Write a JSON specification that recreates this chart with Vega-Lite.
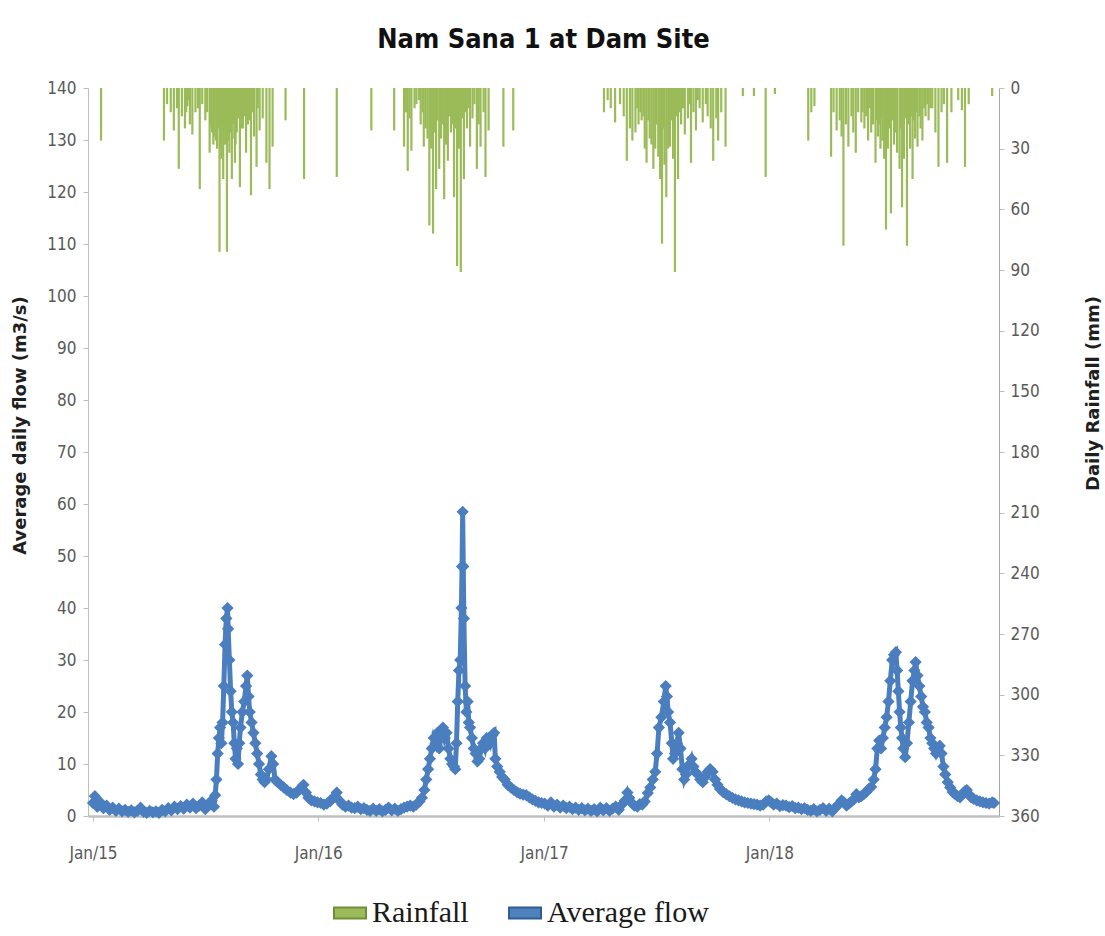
{
 "$schema": "https://vega.github.io/schema/vega-lite/v6.json",
 "width": 911,
 "height": 728,
 "autosize": {"type": "none"},
 "padding": {"left": 88, "top": 88, "right": 106, "bottom": 120},
 "background": "white",
 "title": {"text": "Nam Sana 1 at Dam Site", "font": "'Liberation Sans Narrow', 'DejaVu Sans Condensed', sans-serif", "fontSize": 27, "fontWeight": "bold", "color": "#111111", "anchor": "middle", "baseline": "alphabetic", "offset": 4},
 "config": {"view": {"stroke": null}, "axis": {"grid": false}},
 "datasets": {
  "flow": [
   {"d":"2015-01-01","q":2.5},{"d":"2015-01-04","q":3.8},{"d":"2015-01-08","q":1.8},{"d":"2015-01-13","q":2.6},{"d":"2015-01-18","q":1.5},{"d":"2015-01-23","q":2.0},{"d":"2015-01-28","q":1.2},{"d":"2015-02-02","q":1.6},{"d":"2015-02-07","q":1.0},{"d":"2015-02-12","q":1.4},{"d":"2015-02-17","q":0.9},{"d":"2015-02-22","q":1.2},{"d":"2015-02-27","q":0.8},{"d":"2015-03-04","q":1.1},{"d":"2015-03-09","q":0.7},{"d":"2015-03-14","q":1.0},{"d":"2015-03-19","q":1.6},{"d":"2015-03-24","q":0.8},{"d":"2015-03-29","q":0.6},{"d":"2015-04-03","q":1.0},{"d":"2015-04-08","q":0.7},{"d":"2015-04-13","q":0.9},{"d":"2015-04-18","q":0.6},{"d":"2015-04-23","q":1.2},{"d":"2015-04-28","q":0.9},{"d":"2015-05-03","q":1.5},{"d":"2015-05-08","q":1.1},{"d":"2015-05-13","q":1.8},{"d":"2015-05-18","q":1.3},{"d":"2015-05-23","q":1.9},{"d":"2015-05-28","q":1.4},{"d":"2015-06-02","q":2.2},{"d":"2015-06-07","q":1.6},{"d":"2015-06-12","q":2.4},{"d":"2015-06-17","q":1.5},{"d":"2015-06-22","q":2.0},{"d":"2015-06-27","q":2.6},{"d":"2015-07-02","q":1.3},{"d":"2015-07-07","q":2.1},{"d":"2015-07-12","q":3.0},{"d":"2015-07-16","q":1.8},{"d":"2015-07-18","q":4},{"d":"2015-07-20","q":7},{"d":"2015-07-22","q":12},{"d":"2015-07-24","q":15},{"d":"2015-07-26","q":17},{"d":"2015-07-28","q":14},{"d":"2015-07-30","q":18},{"d":"2015-08-01","q":25},{"d":"2015-08-03","q":33},{"d":"2015-08-05","q":38},{"d":"2015-08-07","q":40},{"d":"2015-08-08","q":36},{"d":"2015-08-10","q":30},{"d":"2015-08-12","q":24},{"d":"2015-08-14","q":20},{"d":"2015-08-16","q":18},{"d":"2015-08-18","q":14},{"d":"2015-08-20","q":11},{"d":"2015-08-22","q":13},{"d":"2015-08-24","q":10},{"d":"2015-08-26","q":14},{"d":"2015-08-28","q":17},{"d":"2015-08-31","q":20},{"d":"2015-09-03","q":22},{"d":"2015-09-06","q":25},{"d":"2015-09-08","q":27},{"d":"2015-09-10","q":23},{"d":"2015-09-12","q":20},{"d":"2015-09-15","q":18},{"d":"2015-09-18","q":16},{"d":"2015-09-21","q":14},{"d":"2015-09-24","q":12},{"d":"2015-09-27","q":10},{"d":"2015-09-30","q":8},{"d":"2015-10-03","q":7},{"d":"2015-10-06","q":6.5},{"d":"2015-10-09","q":7},{"d":"2015-10-13","q":9},{"d":"2015-10-17","q":11.5},{"d":"2015-10-20","q":10},{"d":"2015-10-23","q":7},{"d":"2015-10-27","q":6.5},{"d":"2015-11-01","q":6},{"d":"2015-11-06","q":5.5},{"d":"2015-11-11","q":5},{"d":"2015-11-17","q":4.5},{"d":"2015-11-22","q":4.2},{"d":"2015-11-27","q":4.5},{"d":"2015-12-02","q":5.2},{"d":"2015-12-08","q":6},{"d":"2015-12-12","q":4.5},{"d":"2015-12-16","q":3.5},{"d":"2015-12-21","q":3.0},{"d":"2015-12-26","q":2.8},{"d":"2015-12-31","q":2.6},
   {"d":"2016-01-05","q":2.5},{"d":"2016-01-10","q":2.2},{"d":"2016-01-15","q":2.4},{"d":"2016-01-20","q":2.8},{"d":"2016-01-25","q":3.5},{"d":"2016-01-31","q":4.5},{"d":"2016-02-04","q":3.0},{"d":"2016-02-09","q":2.2},{"d":"2016-02-14","q":1.8},{"d":"2016-02-19","q":2.0},{"d":"2016-02-24","q":1.6},{"d":"2016-02-29","q":1.5},{"d":"2016-03-05","q":1.8},{"d":"2016-03-10","q":1.3},{"d":"2016-03-15","q":1.5},{"d":"2016-03-20","q":1.2},{"d":"2016-03-25","q":1.0},{"d":"2016-03-30","q":1.4},{"d":"2016-04-04","q":1.0},{"d":"2016-04-09","q":1.3},{"d":"2016-04-14","q":0.9},{"d":"2016-04-19","q":1.2},{"d":"2016-04-24","q":1.6},{"d":"2016-04-29","q":1.1},{"d":"2016-05-04","q":1.4},{"d":"2016-05-09","q":1.0},{"d":"2016-05-14","q":1.3},{"d":"2016-05-19","q":1.6},{"d":"2016-05-24","q":1.8},{"d":"2016-05-29","q":2.0},{"d":"2016-06-03","q":1.8},{"d":"2016-06-08","q":2.2},{"d":"2016-06-13","q":2.8},{"d":"2016-06-17","q":3.5},{"d":"2016-06-21","q":5},{"d":"2016-06-24","q":7},{"d":"2016-06-27","q":9},{"d":"2016-06-30","q":11},{"d":"2016-07-03","q":13},{"d":"2016-07-06","q":15},{"d":"2016-07-09","q":14},{"d":"2016-07-12","q":16},{"d":"2016-07-15","q":13},{"d":"2016-07-18","q":15},{"d":"2016-07-21","q":17},{"d":"2016-07-24","q":15},{"d":"2016-07-27","q":16},{"d":"2016-07-30","q":13},{"d":"2016-08-02","q":11},{"d":"2016-08-05","q":10},{"d":"2016-08-08","q":9.5},{"d":"2016-08-10","q":9},{"d":"2016-08-12","q":14},{"d":"2016-08-14","q":22},{"d":"2016-08-16","q":28},{"d":"2016-08-18","q":30},{"d":"2016-08-20","q":40},{"d":"2016-08-21","q":48},{"d":"2016-08-22","q":58.5},{"d":"2016-08-23","q":48},{"d":"2016-08-24","q":38},{"d":"2016-08-26","q":25},{"d":"2016-08-28","q":20},{"d":"2016-08-30","q":22},{"d":"2016-09-01","q":18},{"d":"2016-09-03","q":17},{"d":"2016-09-06","q":15},{"d":"2016-09-09","q":13},{"d":"2016-09-12","q":12},{"d":"2016-09-15","q":10.5},{"d":"2016-09-18","q":11},{"d":"2016-09-21","q":13},{"d":"2016-09-24","q":14},{"d":"2016-09-27","q":13},{"d":"2016-09-30","q":15},{"d":"2016-10-03","q":15},{"d":"2016-10-06","q":14},{"d":"2016-10-09","q":15.5},{"d":"2016-10-12","q":16},{"d":"2016-10-14","q":11},{"d":"2016-10-17","q":9.5},{"d":"2016-10-21","q":8.5},{"d":"2016-10-25","q":7.5},{"d":"2016-10-29","q":7},{"d":"2016-11-03","q":6},{"d":"2016-11-08","q":5.5},{"d":"2016-11-13","q":5},{"d":"2016-11-18","q":4.6},{"d":"2016-11-23","q":4.3},{"d":"2016-11-28","q":4.1},{"d":"2016-12-03","q":4},{"d":"2016-12-08","q":3.6},{"d":"2016-12-13","q":3.2},{"d":"2016-12-18","q":2.9},{"d":"2016-12-23","q":2.6},{"d":"2016-12-28","q":2.5},
   {"d":"2017-01-02","q":2.4},{"d":"2017-01-07","q":2.0},{"d":"2017-01-12","q":2.6},{"d":"2017-01-17","q":1.8},{"d":"2017-01-22","q":2.2},{"d":"2017-01-27","q":1.6},{"d":"2017-02-01","q":2.0},{"d":"2017-02-06","q":1.5},{"d":"2017-02-11","q":1.8},{"d":"2017-02-16","q":1.3},{"d":"2017-02-21","q":1.6},{"d":"2017-02-26","q":1.2},{"d":"2017-03-03","q":1.5},{"d":"2017-03-08","q":1.1},{"d":"2017-03-13","q":1.4},{"d":"2017-03-18","q":1.0},{"d":"2017-03-23","q":1.3},{"d":"2017-03-28","q":0.9},{"d":"2017-04-02","q":1.6},{"d":"2017-04-07","q":1.1},{"d":"2017-04-12","q":1.5},{"d":"2017-04-17","q":1.0},{"d":"2017-04-22","q":1.4},{"d":"2017-04-27","q":1.8},{"d":"2017-05-02","q":1.2},{"d":"2017-05-07","q":2.2},{"d":"2017-05-12","q":3.0},{"d":"2017-05-16","q":4.5},{"d":"2017-05-19","q":3.5},{"d":"2017-05-23","q":2.5},{"d":"2017-05-27","q":2.0},{"d":"2017-06-01","q":1.8},{"d":"2017-06-05","q":2.3},{"d":"2017-06-09","q":2.2},{"d":"2017-06-13","q":2.8},{"d":"2017-06-18","q":4.4},{"d":"2017-06-22","q":5.5},{"d":"2017-06-26","q":7},{"d":"2017-06-30","q":8.5},{"d":"2017-07-03","q":12},{"d":"2017-07-06","q":17},{"d":"2017-07-10","q":19},{"d":"2017-07-14","q":22},{"d":"2017-07-17","q":25},{"d":"2017-07-19","q":23},{"d":"2017-07-21","q":20},{"d":"2017-07-24","q":18},{"d":"2017-07-27","q":14},{"d":"2017-07-29","q":11},{"d":"2017-08-01","q":12},{"d":"2017-08-04","q":14},{"d":"2017-08-07","q":16},{"d":"2017-08-10","q":13},{"d":"2017-08-13","q":9},{"d":"2017-08-16","q":7},{"d":"2017-08-19","q":8},{"d":"2017-08-22","q":9.5},{"d":"2017-08-25","q":10},{"d":"2017-08-28","q":11},{"d":"2017-08-31","q":9.5},{"d":"2017-09-03","q":8.5},{"d":"2017-09-07","q":8},{"d":"2017-09-11","q":7},{"d":"2017-09-15","q":6.5},{"d":"2017-09-19","q":7.5},{"d":"2017-09-23","q":8.5},{"d":"2017-09-27","q":9},{"d":"2017-10-01","q":8.5},{"d":"2017-10-05","q":7},{"d":"2017-10-09","q":6},{"d":"2017-10-13","q":5.2},{"d":"2017-10-18","q":4.6},{"d":"2017-10-23","q":4.2},{"d":"2017-10-28","q":3.8},{"d":"2017-11-02","q":3.5},{"d":"2017-11-07","q":3.2},{"d":"2017-11-12","q":3.0},{"d":"2017-11-17","q":2.8},{"d":"2017-11-22","q":2.6},{"d":"2017-11-27","q":2.5},{"d":"2017-12-02","q":2.4},{"d":"2017-12-07","q":2.3},{"d":"2017-12-12","q":2.2},{"d":"2017-12-17","q":2.0},{"d":"2017-12-22","q":2.2},{"d":"2017-12-27","q":2.8},{"d":"2017-12-31","q":3.0},
   {"d":"2018-01-04","q":2.6},{"d":"2018-01-08","q":2.2},{"d":"2018-01-13","q":2.4},{"d":"2018-01-18","q":1.9},{"d":"2018-01-23","q":2.1},{"d":"2018-01-28","q":2.0},{"d":"2018-02-02","q":1.7},{"d":"2018-02-07","q":1.9},{"d":"2018-02-12","q":1.5},{"d":"2018-02-17","q":1.6},{"d":"2018-02-22","q":1.3},{"d":"2018-02-27","q":1.5},{"d":"2018-03-04","q":1.2},{"d":"2018-03-09","q":1.0},{"d":"2018-03-14","q":1.3},{"d":"2018-03-19","q":0.9},{"d":"2018-03-24","q":1.2},{"d":"2018-03-29","q":1.5},{"d":"2018-04-03","q":1.0},{"d":"2018-04-08","q":1.4},{"d":"2018-04-13","q":0.9},{"d":"2018-04-18","q":1.6},{"d":"2018-04-23","q":2.2},{"d":"2018-04-28","q":3.0},{"d":"2018-05-02","q":2.6},{"d":"2018-05-06","q":2.0},{"d":"2018-05-10","q":2.4},{"d":"2018-05-14","q":2.8},{"d":"2018-05-18","q":3.2},{"d":"2018-05-22","q":4.2},{"d":"2018-05-26","q":3.6},{"d":"2018-05-30","q":3.8},{"d":"2018-06-03","q":4.2},{"d":"2018-06-07","q":4.6},{"d":"2018-06-11","q":5.2},{"d":"2018-06-15","q":5.6},{"d":"2018-06-19","q":7},{"d":"2018-06-22","q":9},{"d":"2018-06-25","q":13},{"d":"2018-06-28","q":14.5},{"d":"2018-07-01","q":13},{"d":"2018-07-04","q":15},{"d":"2018-07-07","q":17},{"d":"2018-07-10","q":19},{"d":"2018-07-13","q":22},{"d":"2018-07-16","q":26},{"d":"2018-07-19","q":30},{"d":"2018-07-22","q":31},{"d":"2018-07-25","q":31.5},{"d":"2018-07-27","q":28},{"d":"2018-07-29","q":24},{"d":"2018-07-31","q":20},{"d":"2018-08-02","q":17},{"d":"2018-08-04","q":15},{"d":"2018-08-06","q":13},{"d":"2018-08-09","q":11.3},{"d":"2018-08-12","q":14},{"d":"2018-08-15","q":18},{"d":"2018-08-18","q":22},{"d":"2018-08-21","q":26},{"d":"2018-08-24","q":28},{"d":"2018-08-26","q":29.6},{"d":"2018-08-29","q":27},{"d":"2018-09-01","q":25},{"d":"2018-09-04","q":23},{"d":"2018-09-07","q":21},{"d":"2018-09-10","q":20},{"d":"2018-09-13","q":18},{"d":"2018-09-16","q":17},{"d":"2018-09-19","q":15},{"d":"2018-09-22","q":14},{"d":"2018-09-25","q":13},{"d":"2018-09-28","q":12},{"d":"2018-10-01","q":13},{"d":"2018-10-04","q":13.5},{"d":"2018-10-07","q":12},{"d":"2018-10-10","q":9.5},{"d":"2018-10-13","q":8},{"d":"2018-10-17","q":6.5},{"d":"2018-10-21","q":5.5},{"d":"2018-10-25","q":4.6},{"d":"2018-10-29","q":4.2},{"d":"2018-11-02","q":3.8},{"d":"2018-11-06","q":3.6},{"d":"2018-11-10","q":4.2},{"d":"2018-11-14","q":4.8},{"d":"2018-11-17","q":5},{"d":"2018-11-20","q":4.2},{"d":"2018-11-24","q":3.6},{"d":"2018-11-28","q":3.3},{"d":"2018-12-03","q":3.0},{"d":"2018-12-08","q":2.8},{"d":"2018-12-13","q":2.6},{"d":"2018-12-18","q":2.5},{"d":"2018-12-23","q":2.4},{"d":"2018-12-28","q":2.6},{"d":"2018-12-31","q":2.5}
  ],
  "rain": [
   {"d":"2015-01-14","r":26},{"d":"2015-04-26","r":26},{"d":"2015-05-01","r":8},{"d":"2015-05-07","r":12},{"d":"2015-05-12","r":21},{"d":"2015-05-17","r":10},{"d":"2015-05-20","r":40},{"d":"2015-05-25","r":14},{"d":"2015-05-30","r":20},{"d":"2015-06-01","r":12},{"d":"2015-06-03","r":9},{"d":"2015-06-05","r":6},{"d":"2015-06-07","r":18},{"d":"2015-06-11","r":23},{"d":"2015-06-16","r":12},{"d":"2015-06-20","r":10},{"d":"2015-06-23","r":50},{"d":"2015-06-27","r":8},{"d":"2015-07-02","r":16},{"d":"2015-07-05","r":12},{"d":"2015-07-09","r":32},{"d":"2015-07-10","r":18},{"d":"2015-07-12","r":20},{"d":"2015-07-13","r":22},{"d":"2015-07-15","r":28},{"d":"2015-07-16","r":15},{"d":"2015-07-18","r":24},{"d":"2015-07-19","r":26},{"d":"2015-07-21","r":30},{"d":"2015-07-23","r":20},{"d":"2015-07-25","r":81},{"d":"2015-07-26","r":30},{"d":"2015-07-28","r":35},{"d":"2015-07-29","r":18},{"d":"2015-07-31","r":45},{"d":"2015-08-01","r":24},{"d":"2015-08-03","r":28},{"d":"2015-08-04","r":20},{"d":"2015-08-06","r":81},{"d":"2015-08-08","r":26},{"d":"2015-08-10","r":32},{"d":"2015-08-12","r":22},{"d":"2015-08-14","r":45},{"d":"2015-08-16","r":18},{"d":"2015-08-18","r":25},{"d":"2015-08-19","r":37},{"d":"2015-08-20","r":28},{"d":"2015-08-22","r":22},{"d":"2015-08-24","r":15},{"d":"2015-08-27","r":49},{"d":"2015-08-29","r":20},{"d":"2015-09-01","r":20},{"d":"2015-09-03","r":14},{"d":"2015-09-06","r":32},{"d":"2015-09-09","r":18},{"d":"2015-09-11","r":16},{"d":"2015-09-14","r":53},{"d":"2015-09-16","r":12},{"d":"2015-09-19","r":24},{"d":"2015-09-23","r":39},{"d":"2015-09-25","r":10},{"d":"2015-09-28","r":21},{"d":"2015-10-03","r":15},{"d":"2015-10-09","r":37},{"d":"2015-10-14","r":50},{"d":"2015-10-19","r":29},{"d":"2015-11-09","r":16},{"d":"2015-12-09","r":45},
   {"d":"2016-01-31","r":44},{"d":"2016-03-27","r":21},{"d":"2016-05-03","r":21},{"d":"2016-05-19","r":29},{"d":"2016-05-22","r":12},{"d":"2016-05-25","r":41},{"d":"2016-05-28","r":15},{"d":"2016-05-31","r":31},{"d":"2016-06-05","r":10},{"d":"2016-06-08","r":8},{"d":"2016-06-12","r":6},{"d":"2016-06-15","r":18},{"d":"2016-06-18","r":12},{"d":"2016-06-20","r":29},{"d":"2016-06-23","r":20},{"d":"2016-06-26","r":25},{"d":"2016-06-29","r":68},{"d":"2016-07-01","r":20},{"d":"2016-07-02","r":30},{"d":"2016-07-04","r":18},{"d":"2016-07-05","r":72},{"d":"2016-07-07","r":22},{"d":"2016-07-10","r":50},{"d":"2016-07-12","r":16},{"d":"2016-07-15","r":40},{"d":"2016-07-18","r":25},{"d":"2016-07-20","r":18},{"d":"2016-07-23","r":55},{"d":"2016-07-26","r":28},{"d":"2016-07-29","r":36},{"d":"2016-07-31","r":14},{"d":"2016-08-03","r":22},{"d":"2016-08-05","r":18},{"d":"2016-08-08","r":54},{"d":"2016-08-10","r":20},{"d":"2016-08-13","r":88},{"d":"2016-08-16","r":30},{"d":"2016-08-19","r":91},{"d":"2016-08-21","r":15},{"d":"2016-08-24","r":45},{"d":"2016-08-26","r":12},{"d":"2016-08-29","r":20},{"d":"2016-09-01","r":10},{"d":"2016-09-03","r":29},{"d":"2016-09-07","r":15},{"d":"2016-09-10","r":8},{"d":"2016-09-14","r":40},{"d":"2016-09-17","r":18},{"d":"2016-09-20","r":29},{"d":"2016-09-25","r":12},{"d":"2016-09-28","r":44},{"d":"2016-10-03","r":21},{"d":"2016-10-27","r":29},{"d":"2016-11-12","r":21},
   {"d":"2017-04-08","r":12},{"d":"2017-04-14","r":6},{"d":"2017-04-19","r":10},{"d":"2017-04-26","r":17},{"d":"2017-05-04","r":8},{"d":"2017-05-10","r":14},{"d":"2017-05-15","r":36},{"d":"2017-05-20","r":20},{"d":"2017-05-24","r":26},{"d":"2017-05-29","r":22},{"d":"2017-06-01","r":10},{"d":"2017-06-03","r":18},{"d":"2017-06-06","r":12},{"d":"2017-06-08","r":16},{"d":"2017-06-11","r":14},{"d":"2017-06-13","r":30},{"d":"2017-06-16","r":37},{"d":"2017-06-19","r":16},{"d":"2017-06-21","r":25},{"d":"2017-06-24","r":28},{"d":"2017-06-27","r":40},{"d":"2017-06-30","r":30},{"d":"2017-07-02","r":18},{"d":"2017-07-05","r":34},{"d":"2017-07-08","r":45},{"d":"2017-07-11","r":77},{"d":"2017-07-13","r":20},{"d":"2017-07-15","r":38},{"d":"2017-07-18","r":54},{"d":"2017-07-21","r":30},{"d":"2017-07-24","r":29},{"d":"2017-07-26","r":16},{"d":"2017-07-29","r":35},{"d":"2017-08-01","r":91},{"d":"2017-08-03","r":14},{"d":"2017-08-06","r":45},{"d":"2017-08-08","r":12},{"d":"2017-08-11","r":18},{"d":"2017-08-14","r":10},{"d":"2017-08-17","r":23},{"d":"2017-08-22","r":15},{"d":"2017-08-25","r":8},{"d":"2017-08-27","r":37},{"d":"2017-08-31","r":12},{"d":"2017-09-04","r":21},{"d":"2017-09-07","r":6},{"d":"2017-09-10","r":10},{"d":"2017-09-15","r":17},{"d":"2017-09-20","r":8},{"d":"2017-09-23","r":14},{"d":"2017-09-28","r":20},{"d":"2017-10-02","r":36},{"d":"2017-10-07","r":15},{"d":"2017-10-10","r":26},{"d":"2017-10-15","r":12},{"d":"2017-10-22","r":29},{"d":"2017-11-19","r":4},{"d":"2017-12-07","r":4},{"d":"2017-12-26","r":44},
   {"d":"2018-01-10","r":3},{"d":"2018-03-05","r":26},{"d":"2018-03-10","r":12},{"d":"2018-03-15","r":9},{"d":"2018-04-11","r":34},{"d":"2018-04-15","r":12},{"d":"2018-04-20","r":21},{"d":"2018-04-25","r":16},{"d":"2018-04-28","r":24},{"d":"2018-05-01","r":78},{"d":"2018-05-05","r":18},{"d":"2018-05-09","r":29},{"d":"2018-05-14","r":14},{"d":"2018-05-17","r":22},{"d":"2018-05-21","r":32},{"d":"2018-05-25","r":12},{"d":"2018-05-30","r":17},{"d":"2018-06-01","r":12},{"d":"2018-06-04","r":20},{"d":"2018-06-07","r":14},{"d":"2018-06-10","r":26},{"d":"2018-06-13","r":10},{"d":"2018-06-15","r":22},{"d":"2018-06-18","r":18},{"d":"2018-06-22","r":37},{"d":"2018-06-24","r":16},{"d":"2018-06-26","r":24},{"d":"2018-06-28","r":18},{"d":"2018-06-30","r":30},{"d":"2018-07-01","r":15},{"d":"2018-07-03","r":26},{"d":"2018-07-06","r":35},{"d":"2018-07-09","r":70},{"d":"2018-07-12","r":30},{"d":"2018-07-14","r":20},{"d":"2018-07-17","r":62},{"d":"2018-07-19","r":16},{"d":"2018-07-22","r":28},{"d":"2018-07-25","r":22},{"d":"2018-07-27","r":32},{"d":"2018-07-31","r":40},{"d":"2018-08-02","r":20},{"d":"2018-08-04","r":59},{"d":"2018-08-07","r":35},{"d":"2018-08-09","r":15},{"d":"2018-08-12","r":78},{"d":"2018-08-15","r":18},{"d":"2018-08-17","r":30},{"d":"2018-08-19","r":14},{"d":"2018-08-21","r":45},{"d":"2018-08-23","r":16},{"d":"2018-08-25","r":25},{"d":"2018-08-27","r":12},{"d":"2018-08-29","r":29},{"d":"2018-09-01","r":14},{"d":"2018-09-03","r":20},{"d":"2018-09-06","r":26},{"d":"2018-09-09","r":10},{"d":"2018-09-11","r":14},{"d":"2018-09-14","r":8},{"d":"2018-09-16","r":16},{"d":"2018-09-19","r":10},{"d":"2018-09-22","r":10},{"d":"2018-09-27","r":22},{"d":"2018-10-02","r":39},{"d":"2018-10-07","r":12},{"d":"2018-10-11","r":8},{"d":"2018-10-16","r":37},{"d":"2018-10-23","r":12},{"d":"2018-11-03","r":6},{"d":"2018-11-09","r":11},{"d":"2018-11-14","r":39},{"d":"2018-11-20","r":8},{"d":"2018-12-28","r":4}
  ]
 },
 "layer": [
  {
   "data": {"name": "rain"},
   "mark": {"type": "bar", "size": 2.2, "color": "#9bbb59"},
   "encoding": {
    "x": {"field": "d", "type": "temporal", "scale": {"type": "utc", "domain": ["2015-01-01", "2018-12-31"], "nice": false},
          "axis": {"title": null, "format": "%b/%y", "values": [{"year": 2015, "month": 1, "date": 1, "utc": true}, {"year": 2016, "month": 1, "date": 1, "utc": true}, {"year": 2017, "month": 1, "date": 1, "utc": true}, {"year": 2018, "month": 1, "date": 1, "utc": true}], "labelFlush": false,
                   "labelFont": "'Liberation Sans Narrow', 'DejaVu Sans Condensed', sans-serif", "labelFontSize": 17, "labelColor": "#595959",
                   "labelPadding": 24, "tickSize": 5, "tickColor": "#bfbfbf", "domainColor": "#c0c0c0", "domainWidth": 2.5}},
    "y": {"field": "r", "type": "quantitative", "scale": {"domain": [0, 360], "reverse": true, "nice": false},
          "axis": {"orient": "right", "values": [0,30,60,90,120,150,180,210,240,270,300,330,360], "title": "Daily Rainfall (mm)",
                   "labelFont": "'Liberation Sans Narrow', 'DejaVu Sans Condensed', sans-serif", "labelFontSize": 17, "labelColor": "#595959",
                   "labelPadding": 6, "tickSize": 5, "tickColor": "#bfbfbf", "domainColor": "#a6a6a6",
                   "titleFont": "DejaVu Sans", "titleFontSize": 18, "titleFontWeight": "bold", "titleColor": "#1f1f1f",
                   "titleAngle": 270, "titleAlign": "center", "titleBaseline": "middle", "titleX": 94, "titleY": 305}},
    "fill": {"datum": "Rainfall", "scale": {"domain": ["Rainfall", "Average flow"], "range": ["#9bbb59", "#4f81bd"]},
             "legend": {"orient": "none", "legendX": 245, "legendY": 808, "direction": "horizontal", "columns": 2, "title": null,
                        "symbolType": "M-1,-0.35L1,-0.35L1,0.35L-1,0.35Z", "symbolSize": 1024, "symbolOpacity": 1,
                        "labelFont": "'Liberation Serif', 'DejaVu Serif', serif", "labelFontSize": 30, "labelColor": "#1a1a1a",
                        "labelOffset": 5, "columnPadding": 36, "labelLimit": 400, "symbolStrokeWidth": 2,
                        "encode": {"symbols": {"update": {"stroke": {"signal": "datum.value === 'Rainfall' ? '#6f8f3a' : '#2f5d94'"}}}}}}
   }
  },
  {
   "data": {"name": "flow"},
   "mark": {"type": "line", "color": "#4a7ebf", "strokeWidth": 5, "point": {"shape": "diamond", "size": 150, "filled": true, "color": "#4a7ebf"}},
   "encoding": {
    "x": {"field": "d", "type": "temporal", "scale": {"type": "utc"}},
    "y": {"field": "q", "type": "quantitative", "scale": {"domain": [0, 140], "nice": false},
          "axis": {"orient": "left", "values": [0,10,20,30,40,50,60,70,80,90,100,110,120,130,140], "title": "Average daily flow (m3/s)",
                   "labelFont": "'Liberation Sans Narrow', 'DejaVu Sans Condensed', sans-serif", "labelFontSize": 17, "labelColor": "#595959",
                   "labelPadding": 7, "tickSize": 5, "tickColor": "#bfbfbf", "domainColor": "#bfbfbf",
                   "titleFont": "DejaVu Sans", "titleFontSize": 18, "titleFontWeight": "bold", "titleColor": "#1f1f1f",
                   "titleAngle": 270, "titleAlign": "center", "titleBaseline": "middle", "titleX": -68, "titleY": 337}}
   }
  }
 ],
 "resolve": {"scale": {"y": "independent"}, "axis": {"y": "independent"}}
}
